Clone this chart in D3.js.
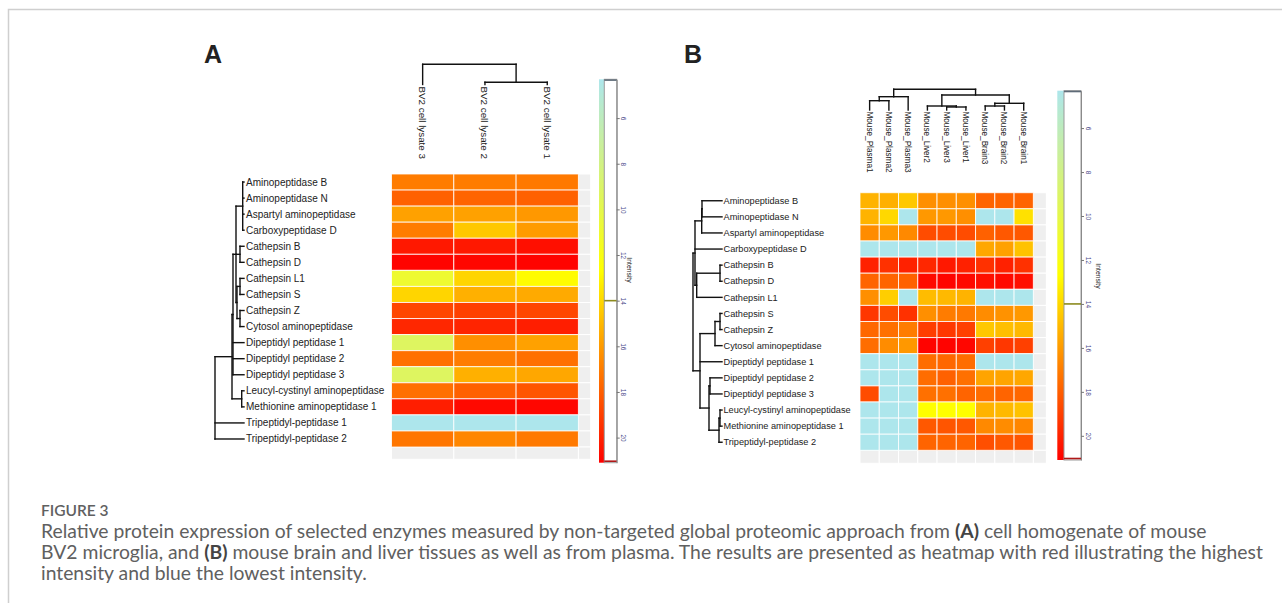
<!DOCTYPE html>
<html lang="en">
<head>
<meta charset="UTF-8">
<title>Figure 3 heatmaps</title>
<script src="https://cdnjs.cloudflare.com/ajax/libs/d3/7.8.5/d3.min.js"></script>
<style>
    html, body { margin: 0; padding: 0; background: #fff; }
    svg { display: block; }
    .lbl { font-family: "Liberation Sans", Arial, sans-serif; fill: #222; }
    .cap { font-family: Lato, "Open Sans", sans-serif; fill: #606060; }
</style>
</head>
<body>
<div id="chart"></div>
<script>
// ---- data ----
const rowsA = ["Aminopeptidase B", "Aminopeptidase N", "Aspartyl aminopeptidase", "Carboxypeptidase D",
    "Cathepsin B", "Cathepsin D", "Cathepsin L1", "Cathepsin S", "Cathepsin Z", "Cytosol aminopeptidase",
    "Dipeptidyl peptidase 1", "Dipeptidyl peptidase 2", "Dipeptidyl peptidase 3",
    "Leucyl-cystinyl aminopeptidase", "Methionine aminopeptidase 1", "Tripeptidyl-peptidase 1", "Tripeptidyl-peptidase 2"];
const colsA = ["BV2 cell lysate 3", "BV2 cell lysate 2", "BV2 cell lysate 1"];
const valuesA = [
    [17.0, 17.0, 17.1],
    [17.9, 17.8, 17.9],
    [15.8, 15.8, 16.1],
    [17.0, 14.5, 16.0],
    [20.3, 20.3, 20.6],
    [21.0, 20.9, 21.0],
    [11.0, 14.1, 12.8],
    [14.1, 15.3, 15.5],
    [18.8, 19.0, 18.8],
    [19.8, 19.9, 20.1],
    [9.3, 16.4, 15.8],
    [17.4, 17.0, 17.4],
    [9.3, 15.3, 15.6],
    [17.4, 17.9, 18.3],
    [20.1, 20.8, 20.9],
    [4.3, 4.3, 4.3],
    [17.2, 16.7, 17.1]
];

const rowsB = ["Aminopeptidase B", "Aminopeptidase N", "Aspartyl aminopeptidase", "Carboxypeptidase D",
    "Cathepsin B", "Cathepsin D", "Cathepsin L1", "Cathepsin S", "Cathepsin Z", "Cytosol aminopeptidase",
    "Dipeptidyl peptidase 1", "Dipeptidyl peptidase 2", "Dipeptidyl peptidase 3",
    "Leucyl-cystinyl aminopeptidase", "Methionine aminopeptidase 1", "Tripeptidyl-peptidase 2"];
const colsB = ["Mouse_Plasma1", "Mouse_Plasma2", "Mouse_Plasma3", "Mouse_Liver2", "Mouse_Liver3",
    "Mouse_Liver1", "Mouse_Brain3", "Mouse_Brain2", "Mouse_Brain1"];
const valuesB = [
    [15.2, 15.3, 14.5, 16.4, 16.4, 16.4, 17.8, 17.8, 17.8],
    [15.2, 14.0, 4.3, 16.1, 16.1, 16.4, 4.3, 4.3, 13.7],
    [16.5, 16.1, 16.6, 18.6, 18.6, 18.6, 17.9, 18.2, 18.2],
    [4.3, 4.3, 4.3, 4.3, 4.3, 4.3, 15.6, 15.8, 14.7],
    [20.0, 19.5, 20.0, 19.8, 20.3, 20.0, 19.5, 20.0, 19.5],
    [17.8, 17.8, 17.9, 20.8, 21.0, 20.8, 20.6, 20.8, 20.6],
    [16.4, 14.3, 4.3, 14.9, 15.0, 15.2, 4.3, 4.3, 4.3],
    [19.3, 18.6, 19.5, 16.4, 17.0, 17.1, 16.5, 16.3, 16.1],
    [17.7, 17.4, 17.0, 19.1, 19.3, 19.0, 14.5, 14.8, 15.0],
    [17.5, 16.5, 16.1, 21.0, 21.0, 20.9, 19.0, 19.3, 19.0],
    [4.3, 4.3, 4.3, 17.5, 17.7, 17.5, 4.3, 4.3, 4.3],
    [4.3, 4.3, 4.3, 17.5, 17.9, 17.4, 15.7, 15.7, 15.6],
    [18.6, 4.3, 4.3, 17.4, 17.4, 17.8, 17.5, 17.8, 17.7],
    [4.3, 4.3, 4.3, 12.7, 12.7, 12.7, 15.2, 15.0, 14.7],
    [4.3, 4.3, 4.3, 18.2, 18.3, 18.2, 16.6, 16.5, 16.7],
    [4.3, 4.3, 4.3, 17.8, 17.8, 17.8, 18.5, 18.2, 18.3]
];

// dendrograms: leaves are row/column indices, h = merge height
const rowTreeA = {h: 29, c: [
    {h: 12, c: [
        {h: 11, c: [
            {h: 8, c: [{h: 1.3, c: [0, 1, 2, 3]}, {h: 4, c: [4, 5]},
                {h: 7, c: [{h: 4, c: [6, 7]}, {h: 4, c: [8, 9]}]}]},
            10, 11, 12]},
        {h: 2.3, c: [13, 14]}]},
    15, 16]};
const colTreeA = {h: 20.7, c: [0, {h: 2.3, c: [1, 2]}]};

const rowTreeB = {h: 29, c: [
    {h: 27, c: [{h: 20.3, c: [{h: 20, c: [0, 1]}, 2]}, 3, {h: 25.3, c: [{h: 2, c: [4, 5]}, 6]}]},
    {h: 22, c: [{h: 7, c: [{h: 2, c: [7, 8]}, 9]}, 10,
        {h: 13, c: [{h: 12, c: [11, 12]}, {h: 3, c: [{h: 2, c: [13, 14]}, 15]}]}]}]};
const colTreeB = {h: 20.7, c: [
    {h: 13.3, c: [{h: 9.3, c: [0, 1]}, 2]},
    {h: 15, c: [{h: 4, c: [3, {h: 3, c: [4, 5]}]}, {h: 6.7, c: [{h: 4, c: [6, 7]}, 8]}]}]};

const keyDomain = [4.3, 21.1];
const keyTicks = [6, 8, 10, 12, 14, 16, 18, 20];
const keyColors = ["#ade6ec", "#ffff00", "#ff0000"];

const captionTitle = "FIGURE 3";
const captionLines = [
    [["Relative protein expression of selected enzymes measured by non-targeted global proteomic approach from ", 0], ["(A)", 1], [" cell homogenate of mouse", 0]],
    [["BV2 microglia, and ", 0], ["(B)", 1], [" mouse brain and liver tissues as well as from plasma. The results are presented as heatmap with red illustrating the highest", 0]],
    [["intensity and blue the lowest intensity.", 0]]
];

// ---- drawing ----
const W = 1282, H = 603;
const svg = d3.select("#chart").append("svg").attr("width", W).attr("height", H);

// frame
svg.append("path").attr("d", `M8.5,${H} V9.5 H${W}`)
    .attr("fill", "none").attr("stroke", "#cfcfcf").attr("stroke-width", 1.5);

const mid = (keyDomain[0] + keyDomain[1]) / 2;
const color = d3.scaleLinear().domain([keyDomain[0], mid, keyDomain[1]]).range(keyColors);

function heatmap(p) {
    const x = d3.scaleBand().domain(d3.range(p.cols.length)).range([p.x0, p.x0 + p.cw * p.cols.length]);
    const y = d3.scaleBand().domain(d3.range(p.rows.length)).range([p.y0, p.y0 + p.rh * p.rows.length]);
    const g = svg.append("g");
    const cells = [];
    p.values.forEach((r, i) => r.forEach((v, j) => cells.push({i, j, v})));
    // empty padding column / row
    const xr = x.range()[1], yb = y.range()[1];
    g.selectAll("rect.padc").data(d3.range(p.rows.length)).enter().append("rect")
        .attr("x", xr).attr("y", i => y(i)).attr("width", p.pad).attr("height", y.bandwidth())
        .attr("fill", "#efefef").attr("stroke", "#fff").attr("stroke-width", 1);
    g.selectAll("rect.padr").data(d3.range(p.cols.length + 1)).enter().append("rect")
        .attr("x", j => j < p.cols.length ? x(j) : xr).attr("y", yb)
        .attr("width", j => j < p.cols.length ? x.bandwidth() : p.pad).attr("height", p.pad)
        .attr("fill", "#efefef").attr("stroke", "#fff").attr("stroke-width", 1);
    g.selectAll("rect.cell").data(cells).enter().append("rect")
        .attr("x", d => x(d.j)).attr("y", d => y(d.i))
        .attr("width", x.bandwidth()).attr("height", y.bandwidth())
        .attr("fill", d => color(d.v))
        .attr("stroke", "rgba(255,255,255,0.8)").attr("stroke-width", 1);

    // row labels
    svg.selectAll(null).data(p.rows).enter().append("text").attr("class", "lbl")
        .attr("x", p.labelX).attr("y", (d, i) => y(i) + y.bandwidth() / 2)
        .attr("dy", "0.35em").attr("font-size", p.rowFont).text(d => d);

    // column labels, rotated
    svg.selectAll(null).data(p.cols).enter().append("text").attr("class", "lbl")
        .attr("transform", (d, j) => `translate(${x(j) + x.bandwidth() / 2 - p.colFont * 0.36},${p.colLabelY}) rotate(90)`)
        .attr("font-size", p.colFont).text(d => d);

    // row dendrogram
    const hx = d3.scaleLinear().domain(p.rowTreeDom).range(p.rowTreeRange);
    const segs = [];
    (function walk(n) {
        if (typeof n === "number") return {pos: y(n) + y.bandwidth() / 2, h: 0};
        const k = n.c.map(walk);
        k.forEach(c => segs.push([[hx(c.h), c.pos], [hx(n.h), c.pos]]));
        const a = k[0].pos, b = k[k.length - 1].pos;
        segs.push([[hx(n.h), a], [hx(n.h), b]]);
        return {pos: (a + b) / 2, h: n.h};
    })(p.rowTree);

    // column dendrogram
    const hy = d3.scaleLinear().domain(p.colTreeDom).range(p.colTreeRange);
    (function walk(n) {
        if (typeof n === "number") return {pos: x(n) + x.bandwidth() / 2, h: 0};
        const k = n.c.map(walk);
        k.forEach(c => segs.push([[c.pos, hy(c.h)], [c.pos, hy(n.h)]]));
        const a = k[0].pos, b = k[k.length - 1].pos;
        segs.push([[a, hy(n.h)], [b, hy(n.h)]]);
        return {pos: (a + b) / 2, h: n.h};
    })(p.colTree);

    svg.append("g").selectAll("path").data(segs).enter().append("path")
        .attr("d", d3.line()).attr("stroke", "#111").attr("stroke-width", 1.4)
        .attr("fill", "none").attr("stroke-linecap", "square");
}

function colorKey(k) {
    const ky = d3.scaleLinear().domain(keyDomain).range([k.y0, k.y1]);
    const gid = "grad" + k.id;
    const grad = svg.append("defs").append("linearGradient").attr("id", gid)
        .attr("x1", 0).attr("x2", 0).attr("y1", 0).attr("y2", 1);
    grad.selectAll("stop").data(d3.range(0, 1.0001, 0.05)).enter().append("stop")
        .attr("offset", t => t).attr("stop-color", t => color(keyDomain[0] + t * (keyDomain[1] - keyDomain[0])));
    svg.append("rect").attr("x", k.x).attr("y", k.y0).attr("width", k.bw).attr("height", k.y1 - k.y0)
        .attr("fill", `url(#${gid})`);
    svg.append("rect").attr("x", k.x + k.bw).attr("y", k.y0).attr("width", k.box).attr("height", k.y1 - k.y0)
        .attr("fill", "#fff").attr("stroke", "#9a9a9a").attr("stroke-width", 1);
    const ax = k.x + k.bw + k.box;
    // trace lines of the key
    [[ky.range()[0] + 0.8, "#5e6b78"], [ky(14), "#8c8a1e"], [ky.range()[1] - 1.5, "#b01818"]].forEach(([yy, c]) => {
        svg.append("line").attr("x1", k.x + k.bw).attr("x2", ax).attr("y1", yy).attr("y2", yy)
            .attr("stroke", c).attr("stroke-width", 1.6);
    });
    const g = svg.append("g").attr("transform", `translate(${ax},0)`)
        .call(d3.axisRight(ky).tickValues(keyTicks).tickSize(3).tickSizeOuter(0));
    g.select(".domain").attr("stroke", "#8a8a8a");
    g.selectAll(".tick line").attr("stroke", "#777");
    g.selectAll(".tick text").attr("x", null).attr("dy", null)
        .attr("transform", "translate(4.5,0) rotate(90)").attr("text-anchor", "middle")
        .attr("font-family", "Liberation Sans, Arial, sans-serif").attr("font-size", 6.5).attr("fill", "#4b4b8c");
    svg.append("text").attr("class", "lbl")
        .attr("transform", `translate(${k.labX},${k.labY}) rotate(90)`)
        .attr("text-anchor", "middle").attr("font-size", 6.8).attr("fill", "#2c2c5c").text("Intensity");
}

heatmap({rows: rowsA, cols: colsA, values: valuesA, x0: 391.5, y0: 174, cw: 62.3, rh: 16.06, pad: 12.3,
    labelX: 246, rowFont: 10, colFont: 9.8, colLabelY: 86.5,
    rowTree: rowTreeA, rowTreeDom: [0, 29], rowTreeRange: [244, 215],
    colTree: colTreeA, colTreeDom: [0, 20.7], colTreeRange: [84.5, 64.3]});

heatmap({rows: rowsB, cols: colsB, values: valuesB, x0: 860, y0: 192.7, cw: 19.26, rh: 16.1, pad: 13,
    labelX: 723.5, rowFont: 9.2, colFont: 8.2, colLabelY: 111.5,
    rowTree: rowTreeB, rowTreeDom: [0, 30], rowTreeRange: [722, 692],
    colTree: colTreeB, colTreeDom: [0, 20.7], colTreeRange: [110, 89.3]});

colorKey({id: "A", x: 599, bw: 5.3, box: 12.4, y0: 79.3, y1: 462.7, labX: 627, labY: 270});
colorKey({id: "B", x: 1057.3, bw: 6.7, box: 17, y0: 90.7, y1: 460, labX: 1096, labY: 276});

// panel letters
svg.append("text").attr("class", "lbl").attr("x", 204).attr("y", 63).attr("font-size", 25)
    .attr("font-weight", "bold").attr("fill", "#000").text("A");
svg.append("text").attr("class", "lbl").attr("x", 684).attr("y", 63).attr("font-size", 25)
    .attr("font-weight", "bold").attr("fill", "#000").text("B");

// caption
svg.append("text").attr("class", "cap").attr("x", 41).attr("y", 516)
    .attr("font-size", 15.5).attr("font-weight", 600).attr("fill", "#5a5a5a").text(captionTitle);
const capText = captionLines.map((parts, li) => {
    const t = svg.append("text").attr("class", "cap").attr("x", 41).attr("y", 537.5 + li * 21).attr("font-size", 16);
    parts.forEach(([s, b]) => t.append("tspan").text(s)
        .attr("font-weight", b ? "bold" : null).attr("fill", b ? "#444" : null));
    return t;
});
// fit font so the second line spans the same width as in the figure
const fs = 16 * 1222 / capText[1].node().getComputedTextLength();
capText.forEach(t => t.attr("font-size", fs));
</script>
</body>
</html>
